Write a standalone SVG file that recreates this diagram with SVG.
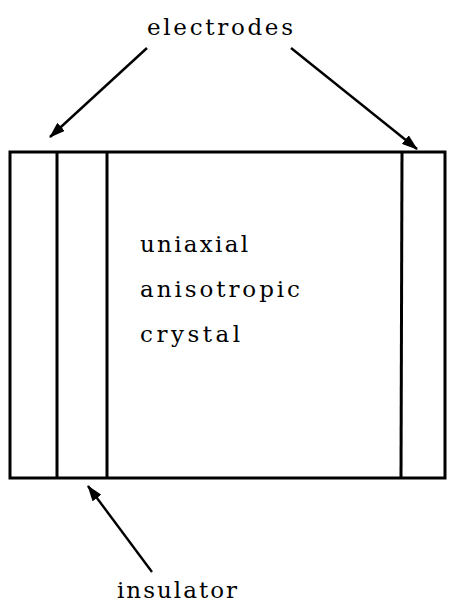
<svg xmlns="http://www.w3.org/2000/svg" width="449" height="609" viewBox="0 0 449 609">
<style>
.ln{stroke:#000;stroke-width:3;fill:none}
.ar{stroke:#000;stroke-width:2.4;fill:none}
.t{font-family:"DejaVu Serif","Liberation Serif",serif;font-size:23px;fill:#000}
</style>
<defs>
<marker id="ah2" viewBox="0 0 16 11" refX="15" refY="5.5" markerWidth="16" markerHeight="11" markerUnits="userSpaceOnUse" orient="auto">
<path d="M0,0 L16,5.5 L0,11 z" fill="#000"/>
</marker>
</defs>
<rect width="449" height="609" fill="#fff"/>
<g id="crystal">
<rect class="ln" x="10" y="152" width="435" height="326"/>
<text class="t" x="140" y="252" textLength="108" lengthAdjust="spacing">uniaxial</text>
<text class="t" x="140" y="297" textLength="160" lengthAdjust="spacing">anisotropic</text>
<text class="t" x="140" y="342" textLength="100" lengthAdjust="spacing">crystal</text>
</g>
<g id="electrode-left"><line class="ln" x1="57" y1="152" x2="57" y2="478"/></g>
<g id="insulator"><line class="ln" x1="107" y1="152" x2="107" y2="478"/></g>
<g id="electrode-right"><line class="ln" x1="402" y1="152" x2="401" y2="478"/></g>
<g id="label-electrodes"><text class="t" x="147" y="35" textLength="146" lengthAdjust="spacing">electrodes</text></g>
<g id="label-insulator"><text class="t" x="117" y="598" textLength="120" lengthAdjust="spacing">insulator</text></g>
<g id="connectors">
<line class="ar" x1="147" y1="48" x2="50" y2="137" marker-end="url(#ah2)"/>
<line class="ar" x1="291" y1="48" x2="417" y2="149" marker-end="url(#ah2)"/>
<line class="ar" x1="152" y1="572" x2="88" y2="486" marker-end="url(#ah2)"/>
</g>
</svg>
